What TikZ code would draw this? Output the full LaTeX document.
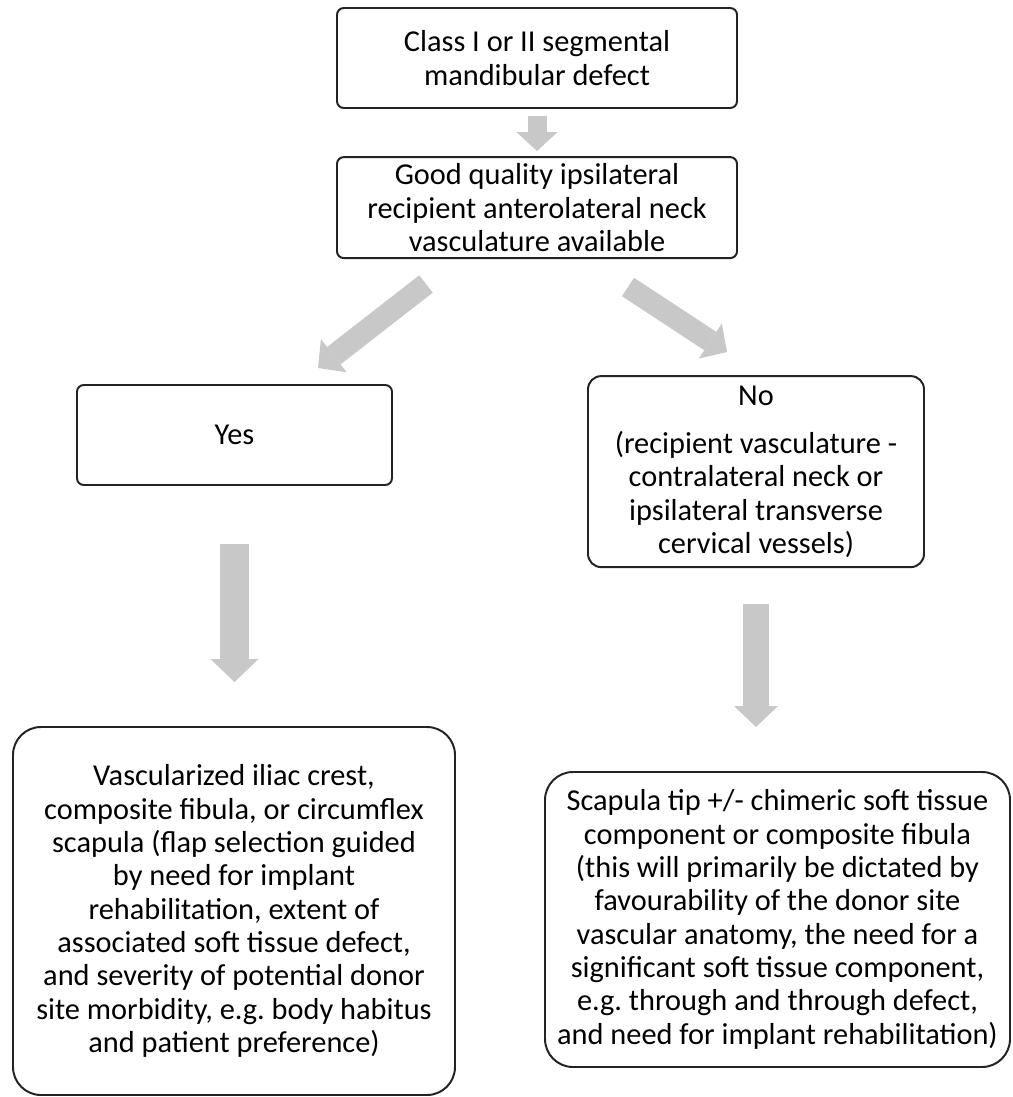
\documentclass[tikz,border=0pt]{standalone}
\usepackage{fontspec}
\setmainfont{Carlito}
\usetikzlibrary{arrows.meta}

\definecolor{arrowgray}{RGB}{200,200,200}
\definecolor{boxline}{RGB}{35,35,35}

\tikzset{
  flowbox/.style={draw=boxline, line width=1.4pt, fill=white, rounded corners=#1,
    align=center, inner sep=0pt, font=\fontsize{21.6}{23.7}\selectfont},
  flowbox/.default=0.17cm,
  blockarrow/.style n args={3}{draw=arrowgray, line width=#1,
    -{Triangle[width=#2, length=#3, line width=0pt]}}
}

\begin{document}
\begin{tikzpicture}

  \useasboundingbox (0,0) rectangle (25.325,-27.425);

  % Defect and the recipient vessel question
  \node[flowbox, minimum width=10cm, minimum height=2.5cm] (defect) at (13.425,-1.45)
    {Class I or II segmental\\mandibular defect};
  \node[flowbox, minimum width=10cm, minimum height=2.525cm] (vessels) at (13.425,-5.19)
    {Good quality ipsilateral\\recipient anterolateral neck\\vasculature available};

  % Yes / No answers
  \node[flowbox, minimum width=7.875cm, minimum height=2.5cm] (yes) at (5.8625,-10.875) {Yes};
  \node[flowbox=0.33cm, minimum width=8.4cm, minimum height=4.775cm] (no) at (18.9,-11.79)
    {No\\[0.375cm](recipient vasculature -\\contralateral neck or\\ipsilateral transverse\\cervical vessels)};

  % Flap choices
  \node[flowbox=0.7cm, minimum width=11.05cm, minimum height=9.2cm] (flapyes) at (5.85,-22.775)
    {Vascularized iliac crest,\\composite fibula, or circumflex\\scapula (flap selection guided\\by need for implant\\rehabilitation, extent of\\associated soft tissue defect,\\and severity of potential donor\\site morbidity, e.g.\ body habitus\\and patient preference)};
  \node[flowbox=0.7cm, minimum width=11.625cm, minimum height=7.375cm] (flapno) at (19.4375,-22.9875)
    {Scapula tip +/- chimeric soft tissue\\component or composite fibula\\(this will primarily be dictated by\\favourability of the donor site\\vascular anatomy, the need for a\\significant soft tissue component,\\e.g.\ through and through defect,\\and need for implant rehabilitation)};

  % Ends of the slanted arrows
  \coordinate (yestail) at (10.65,-7.1);
  \coordinate (yeshead) at (7.95,-9.2);
  \coordinate (notail) at (15.7,-7.175);
  \coordinate (nohead) at (18.175,-8.8);

  % Grey block arrows
  \draw[blockarrow={0.475cm}{1.025cm}{0.475cm}, shorten <=0.175cm, shorten >=0.125cm]
    (defect.south) -- (vessels.north);
  \draw[blockarrow={0.55cm}{1.05cm}{0.5cm}] (yestail) -- (yeshead);
  \draw[blockarrow={0.55cm}{1.05cm}{0.5cm}] (notail) -- (nohead);
  \draw[blockarrow={0.725cm}{1.2cm}{0.575cm}, shorten <=1.45cm, shorten >=1.1cm]
    (yes.south) -- (yes.south |- flapyes.north);
  \draw[blockarrow={0.65cm}{1.1cm}{0.525cm}, shorten <=0.9cm, shorten >=1.1cm]
    (no.south) -- (no.south |- flapno.north);

\end{tikzpicture}
\end{document}
